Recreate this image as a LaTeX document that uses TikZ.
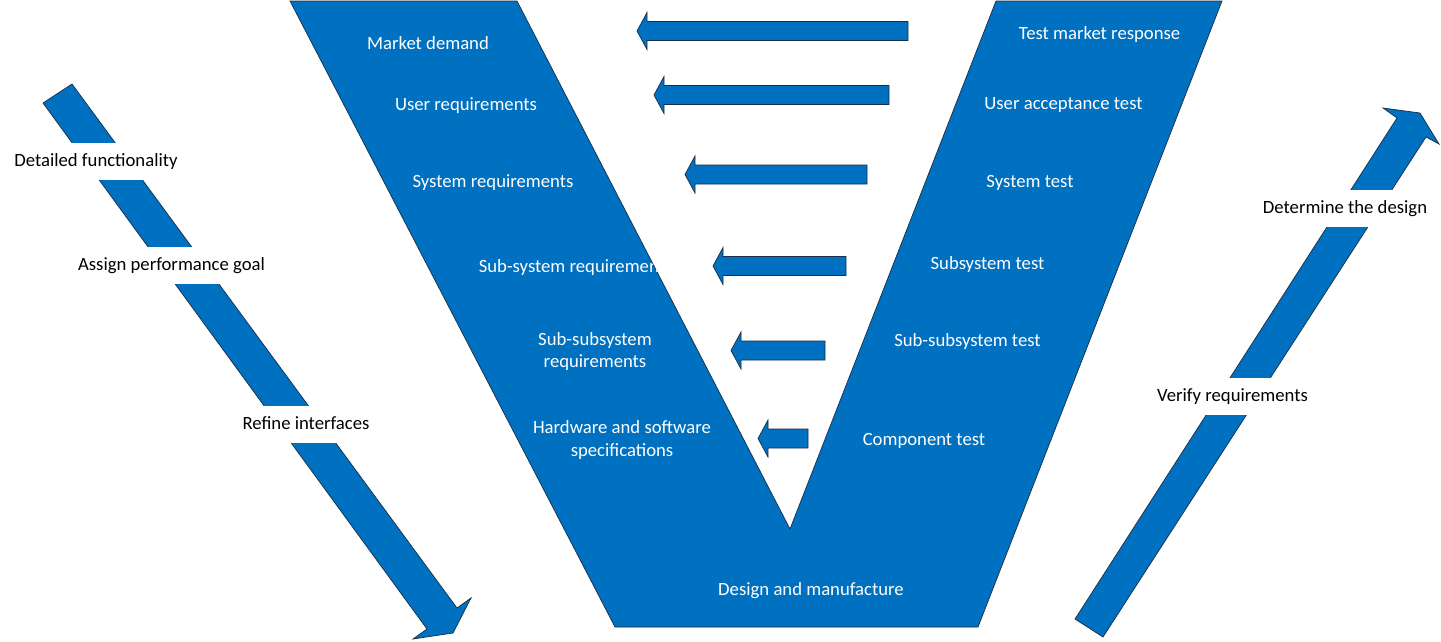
\documentclass[tikz,border=0pt]{standalone}
\usepackage{fontspec}
\setmainfont{Carlito}
\definecolor{vblue}{RGB}{0,112,192}
\definecolor{vedge}{RGB}{25,45,70}

\begin{document}
\begin{tikzpicture}[x=1pt,y=-1pt,
    vshape/.style={fill=vblue,draw=vedge,line width=0.7pt},
    vlabel/.style={text=white,font=\fontsize{18.7}{22.5}\selectfont,align=center,yshift=-1.5pt},
    sidelabel/.style={fill=white,font=\fontsize{18.7}{22.5}\selectfont,
      text height=14pt,text depth=4pt,inner xsep=2pt,inner ysep=9.5pt,yshift=-1pt}]
  \useasboundingbox[fill=white] (0,0) rectangle (1441,641);
  % the V
  \coordinate (V1) at (290,1);
  \coordinate (V2) at (517,1);
  \coordinate (V3) at (790,529);
  \coordinate (V4) at (996,1);
  \coordinate (V5) at (1222,1);
  \coordinate (V6) at (978,627);
  \coordinate (V7) at (615,627);
  \draw[vshape] (V1)--(V2)--(V3)--(V4)--(V5)--(V6)--(V7)--cycle;
  % arrows between the arms
  \foreach \tip/\rx/\cy in {637/908/31, 654/889/95, 685/867/174.5,
      713/846/266, 731/825/350.5, 758/808/438.5}
    \draw[vshape] (\rx,{\cy-9.5}) -- ({\tip+10},{\cy-9.5}) -- ({\tip+10},{\cy-18.5})
      -- (\tip,\cy) -- ({\tip+10},{\cy+18.5}) -- ({\tip+10},{\cy+9.5})
      -- (\rx,{\cy+9.5}) -- cycle;
  % side arrows
  \draw[vshape] (43,103) -- (72,84) -- (457,608) -- (471,598) -- (453,633)
    -- (413,639) -- (427,629) -- cycle;
  \draw[vshape] (1075,619) -- (1397,118) -- (1383,108) -- (1420,113)
    -- (1439,144) -- (1426,137) -- (1103,637) -- cycle;
  % left arm
  \node[vlabel] (md) at (428,42) {Market demand};
  \node[vlabel] (ur) at (466,104) {User requirements};
  \node[vlabel] (sr) at (493,181) {System requirements};
  \begin{scope}
    \clip (V1)--(V2)--(V3)--(V4)--(V5)--(V6)--(V7)--cycle;
    \node[vlabel] (ssr) at (575.5,266) {Sub-system requirements};
  \end{scope}
  \node[vlabel] (sssr) at (595,350) {Sub-subsystem\\requirements};
  \node[vlabel] (hw) at (622,438.5) {Hardware and software\\specifications};
  \node[vlabel] (dm) at (811,589) {Design and manufacture};
  % right arm
  \node[vlabel] (tm) at (1099.5,33) {Test market response};
  \node[vlabel] (ua) at (1063.5,104) {User acceptance test};
  \node[vlabel] (st) at (1030,181) {System test};
  \node[vlabel] (sst) at (987.5,263) {Subsystem test};
  \node[vlabel] (ssst) at (967.5,340) {Sub-subsystem test};
  \node[vlabel] (ct) at (924,439) {Component test};
  % labels on the side arrows
  \node[sidelabel] (df) at (96,160) {Detailed functionality};
  \node[sidelabel] (ap) at (171.5,264) {Assign performance goal};
  \node[sidelabel] (ri) at (306,423) {Refine interfaces};
  \node[sidelabel] (dd) at (1345,207) {Determine the design};
  \node[sidelabel] (vr) at (1232.5,395) {Verify requirements};
\end{tikzpicture}
\end{document}
